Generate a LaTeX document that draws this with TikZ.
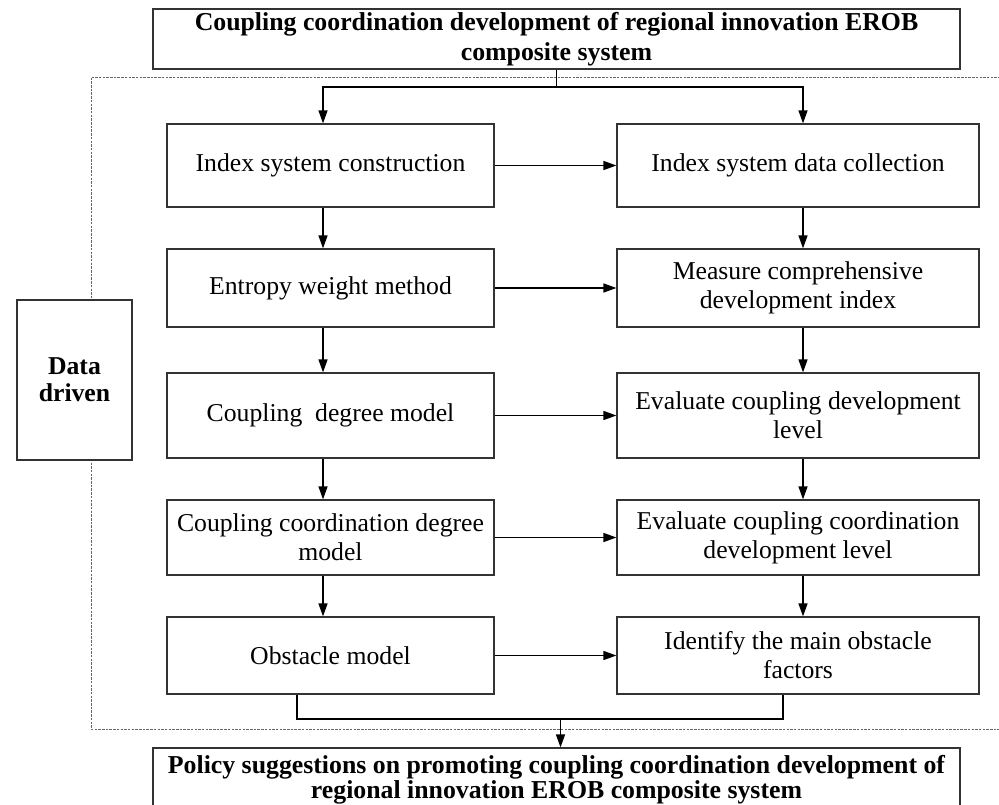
\documentclass[tikz,border=0pt]{standalone}
\usepackage{fontspec}
\setmainfont{Liberation Serif}
\usetikzlibrary{arrows.meta}
\begin{document}
\begin{tikzpicture}[x=1pt,y=-1pt,
  box/.style={draw=black!80, line width=1.2pt, fill=white, inner sep=0pt, align=center,
    font=\fontsize{25.7pt}{29pt}\selectfont},
  boldbox/.style={box, font=\bfseries\fontsize{25.8pt}{30pt}\selectfont},
  lbox/.style={box, minimum width=327pt},
  rbox/.style={box, minimum width=362pt},
  conn/.style={draw=black, line width=1.4pt},
  arr/.style={conn, -{Triangle[length=13pt,width=9pt]}},
  frame/.style={draw=black!60, line width=0.8pt, dash pattern=on 2.5pt off 1.2pt}
]
\useasboundingbox (0,0) rectangle (999,805);

% dashed frame
\draw[frame] (91,77.7) rectangle (1010,729);

% top and bottom boxes
\node[boldbox, minimum width=807pt, minimum height=60pt] (T) at (556.5,39)
  {Coupling coordination development of regional innovation EROB\\composite system};
\node[box, font=\bfseries\fontsize{25.8pt}{22pt}\selectfont, minimum width=807pt, minimum height=64pt] (P) at (556.5,780)
  {Policy suggestions on promoting coupling coordination development of\\regional innovation EROB composite system};

% data driven
\node[boldbox, font=\bfseries\fontsize{25.7pt}{27pt}\selectfont, minimum width=115pt, minimum height=160pt] (D) at (74.5,380)
  {Data\\driven};

% left column
\node[lbox, minimum height=83pt] (L1) at (330.5,165.5) {Index system construction};
\node[lbox, minimum height=78pt] (L2) at (330.5,288) {Entropy weight method};
\node[lbox, minimum height=85pt] (L3) at (330.5,415.5) {Coupling~ degree model};
\node[lbox, minimum height=75pt] (L4) at (330.5,537.5) {Coupling coordination degree\\model};
\node[lbox, minimum height=77pt] (L5) at (330.5,655.5) {Obstacle model};

% right column
\node[rbox, minimum height=83pt] (R1) at (798,165.5) {Index system data collection};
\node[rbox, minimum height=78pt] (R2) at (798,288) {Measure comprehensive\\development index};
\node[rbox, minimum height=85pt] (R3) at (798,415.5) {Evaluate coupling development\\level};
\node[rbox, minimum height=75pt] (R4) at (798,537.5) {Evaluate coupling coordination\\development level};
\node[rbox, minimum height=77pt] (R5) at (798,655.5) {Identify the main obstacle\\factors};

% column coordinates
\coordinate (cl) at (323,0);
\coordinate (cr) at (803,0);
\coordinate (bl) at (297,0);
\coordinate (br) at (783,0);
\coordinate (j1) at (556.5,87);
\coordinate (j2) at (560.5,719);

% top split
\draw[conn] (T.south) -- (j1);
\draw[arr] (j1) -| (cl |- L1.north);
\draw[arr] (j1) -| (cr |- R1.north);

% vertical arrows
\draw[arr] (cl |- L1.south) -- (cl |- L2.north);
\draw[arr] (cl |- L2.south) -- (cl |- L3.north);
\draw[arr] (cl |- L3.south) -- (cl |- L4.north);
\draw[arr] (cl |- L4.south) -- (cl |- L5.north);
\draw[arr] (cr |- R1.south) -- (cr |- R2.north);
\draw[arr] (cr |- R2.south) -- (cr |- R3.north);
\draw[arr] (cr |- R3.south) -- (cr |- R4.north);
\draw[arr] (cr |- R4.south) -- (cr |- R5.north);

% horizontal arrows
\draw[arr] (L1.east) -- (R1.west);
\draw[arr] (L2.east) -- (R2.west);
\draw[arr] (L3.east) -- (R3.west);
\draw[arr] (L4.east) -- (R4.west);
\draw[arr] (L5.east) -- (R5.west);

% bottom merge
\draw[conn] (bl |- L5.south) |- (j2) -| (br |- R5.south);
\draw[arr] (j2) -- (j2 |- P.north);
\end{tikzpicture}
\end{document}
